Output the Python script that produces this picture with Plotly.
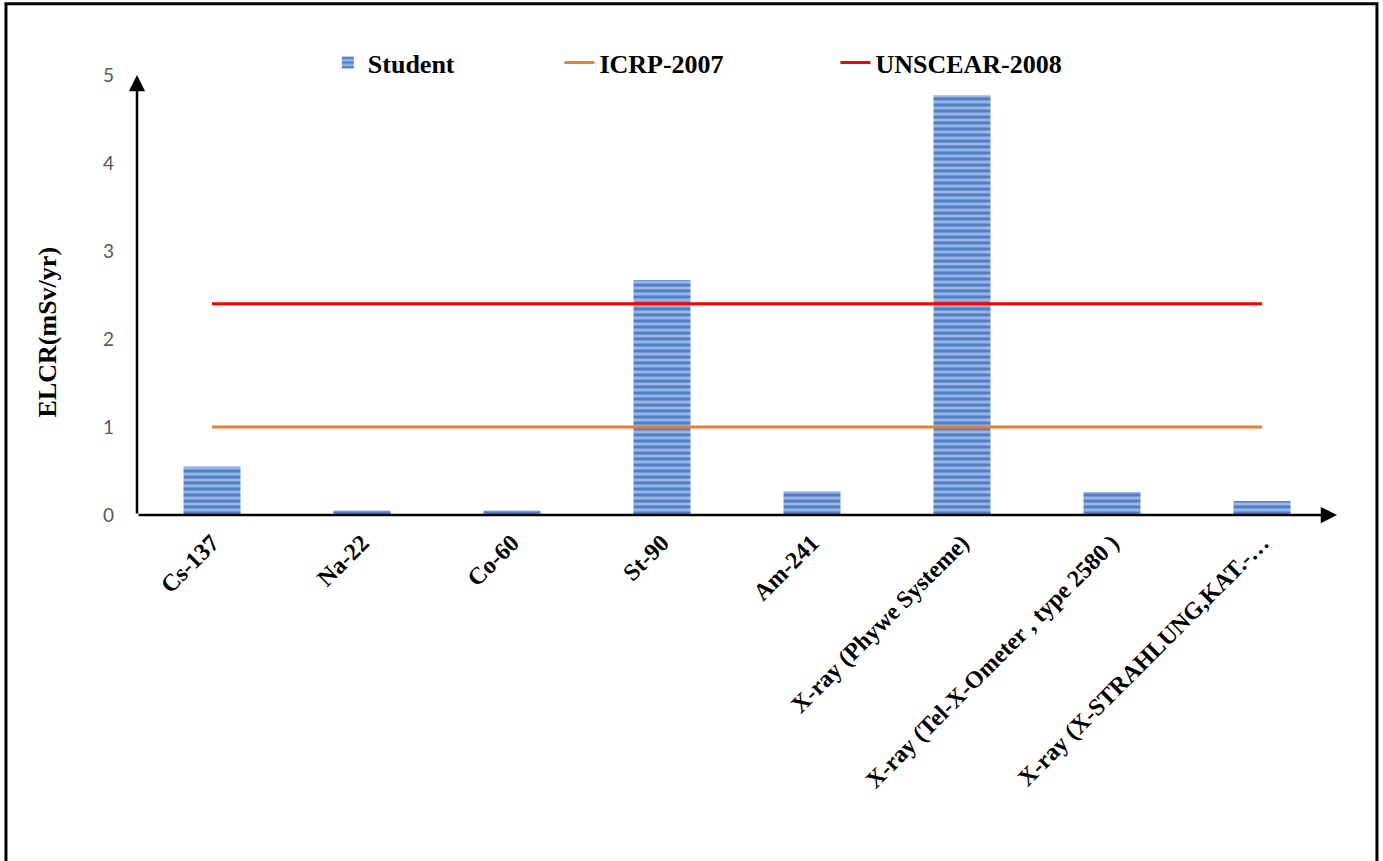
import plotly.graph_objects as go

# ELCR values per source (mSv/yr)
sources = [
    "Cs-137", "Na-22", "Co-60", "St-90", "Am-241",
    "X-ray (Phywe Systeme)",
    "X-ray (Tel-X-Ometer , type 2580 )",
    "X-ray (X-STRAHLUNG,KAT.-…",
]
student = [0.55, 0.05, 0.05, 2.67, 0.27, 4.77, 0.26, 0.16]
icrp_2007 = [1.0] * len(sources)
unscear_2008 = [2.4] * len(sources)

serif = "Liberation Serif, Times New Roman, serif"
legend_font = dict(family=serif, size=26, color="black", weight="bold")


def legend_box(x):
    return dict(orientation="h", x=x, xanchor="left", y=1.028, yanchor="middle",
                font=legend_font, bgcolor="rgba(0,0,0,0)")


fig = go.Figure()

fig.add_trace(go.Bar(
    x=sources, y=student, name="Student", width=0.38, legend="legend",
    marker=dict(
        color="#4f7fc8",
        line=dict(width=0),
        pattern=dict(shape="-", fgcolor="#e4ecf8", size=6, solidity=0.5,
                     fillmode="overlay"),
    ),
))
fig.add_trace(go.Scatter(
    x=sources, y=icrp_2007, name="ICRP-2007", mode="lines", legend="legend2",
    line=dict(color="#ED7D31", width=3),
))
fig.add_trace(go.Scatter(
    x=sources, y=unscear_2008, name="UNSCEAR-2008", mode="lines", legend="legend3",
    line=dict(color="#FF0000", width=3),
))

fig.update_layout(
    width=1383, height=861,
    margin=dict(l=137, r=46, t=75, b=346),
    plot_bgcolor="white", paper_bgcolor="white",
    showlegend=True,
    legend=legend_box(0.159),
    legend2=legend_box(0.352),
    legend3=legend_box(0.582),
    xaxis=dict(
        type="category", showgrid=False, showline=False, zeroline=False,
        ticks="", tickangle=-45, ticklabelstandoff=8,
        tickfont=dict(family=serif, size=24, color="black", weight="bold"),
    ),
    yaxis=dict(
        range=[0, 5], dtick=1, showgrid=False, showline=False, zeroline=False,
        ticks="", ticklabelstandoff=22,
        tickfont=dict(family="Lato, Open Sans, sans-serif", size=19, color="#595959"),
    ),
    bargap=0.62,
)

# Y axis title
fig.add_annotation(xref="paper", yref="paper", x=-0.075, y=0.415,
                   xanchor="center", yanchor="middle", textangle=-90,
                   text="ELCR(mSv/yr)", showarrow=False,
                   font=dict(family=serif, size=26, color="black", weight="bold"))

# Axis lines drawn as arrows
fig.add_annotation(xref="x domain", yref="y domain", axref="x domain", ayref="y domain",
                   x=1.0, y=0, ax=0, ay=0, text="", showarrow=True,
                   arrowhead=2, arrowsize=1.3, arrowwidth=2.5, arrowcolor="black")
fig.add_annotation(xref="x domain", yref="y domain", axref="x domain", ayref="y domain",
                   x=0, y=1.0, ax=0, ay=0, text="", showarrow=True,
                   arrowhead=2, arrowsize=1.3, arrowwidth=2.5, arrowcolor="black")

# Outer frame
fig.add_shape(type="rect", xref="paper", yref="paper",
              x0=-0.1092, x1=1.0333, y0=-0.82, y1=1.162,
              line=dict(color="black", width=3), fillcolor="rgba(0,0,0,0)", layer="below")

fig.write_html("out.html")
